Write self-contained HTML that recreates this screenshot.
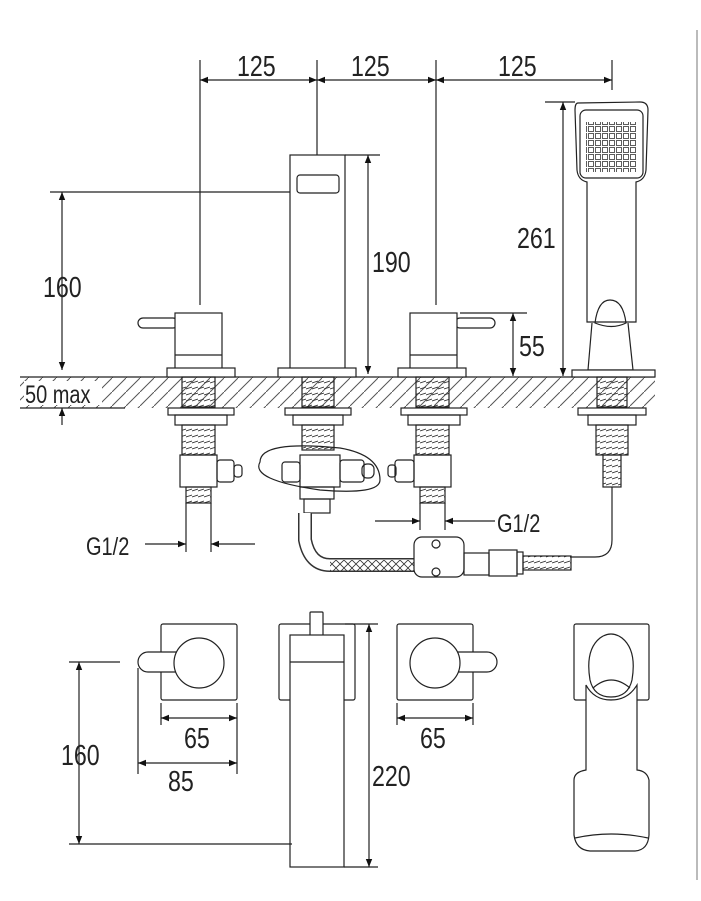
<!DOCTYPE html>
<html><head><meta charset="utf-8"><style>
html,body{margin:0;padding:0;background:#fff;}
svg{display:block}
text{font-family:"Liberation Sans",sans-serif;font-size:29px;fill:#222;}
</style></head><body>
<svg width="701" height="901" viewBox="0 0 701 901" xmlns="http://www.w3.org/2000/svg">
<defs>
<marker id="a" viewBox="0 0 10 10" refX="10" refY="5" markerWidth="12" markerHeight="8" orient="auto-start-reverse" markerUnits="userSpaceOnUse"><path d="M0,1 L10,5 L0,9z" fill="#111"/></marker>
<pattern id="h" width="14" height="14" patternUnits="userSpaceOnUse"><path d="M0,14 L14,0" stroke="#555" stroke-width="1"/></pattern>
<pattern id="g" width="7" height="7" patternUnits="userSpaceOnUse"><rect x="0.5" y="0.5" width="5" height="5" fill="none" stroke="#333" stroke-width="0.8"/></pattern>
<pattern id="x" width="8" height="8" patternUnits="userSpaceOnUse"><path d="M0,0 L8,8 M8,0 L0,8" stroke="#333" stroke-width="0.8"/></pattern>
<pattern id="t" width="6" height="6" patternUnits="userSpaceOnUse"><path d="M0,5 L6,3" stroke="#333" stroke-width="0.9"/></pattern>
</defs>
<g fill="none" stroke="#222" stroke-width="1.2">
<line x1="697" y1="30" x2="697" y2="880" stroke="#bbb" stroke-width="2"/>
<!-- top dims -->
<line x1="200" y1="60" x2="200" y2="305"/><line x1="317" y1="60" x2="317" y2="155"/><line x1="436" y1="60" x2="436" y2="305"/><line x1="612" y1="60" x2="612" y2="90"/>
<line x1="200" y1="80" x2="317" y2="80" marker-start="url(#a)" marker-end="url(#a)"/>
<line x1="317" y1="80" x2="436" y2="80" marker-start="url(#a)" marker-end="url(#a)"/>
<line x1="436" y1="80" x2="612" y2="80" marker-start="url(#a)" marker-end="url(#a)"/>
<!-- deck -->
<rect x="20" y="377" width="635" height="31" fill="url(#h)" stroke="none"/>
<rect x="24" y="381" width="78" height="24" fill="#fff" stroke="none"/>
<line x1="20" y1="377" x2="655" y2="377"/>
<line x1="20" y1="408" x2="125" y2="408"/>
<!-- 160 left top -->
<line x1="50" y1="192" x2="295" y2="192"/>
<line x1="62" y1="192" x2="62" y2="370" marker-start="url(#a)" marker-end="url(#a)"/>
<line x1="62" y1="425" x2="62" y2="408" marker-end="url(#a)"/>
<!-- spout -->
<rect x="290" y="155" width="55" height="215" fill="#fff"/>
<rect x="297" y="175" width="42" height="18" rx="3"/>
<line x1="345" y1="155" x2="380" y2="155"/>
<line x1="368" y1="155" x2="368" y2="374" marker-start="url(#a)" marker-end="url(#a)"/>
<rect x="278" y="368" width="78" height="9" fill="#fff"/>
<!-- left handle -->
<rect x="138" y="318" width="40" height="10" rx="5" fill="#fff"/>
<rect x="175" y="313" width="47" height="57" fill="#fff"/><line x1="175" y1="355" x2="222" y2="355"/>
<rect x="167" y="368" width="68" height="9" fill="#fff"/>
<!-- right handle -->
<rect x="455" y="318" width="40" height="10" rx="5" fill="#fff"/>
<rect x="410" y="313" width="47" height="57" fill="#fff"/><line x1="410" y1="355" x2="457" y2="355"/>
<rect x="398" y="368" width="68" height="9" fill="#fff"/>
<!-- 55 -->
<line x1="460" y1="313" x2="527" y2="313"/>
<line x1="513" y1="313" x2="513" y2="376" marker-start="url(#a)" marker-end="url(#a)"/>
<!-- handshower -->
<path d="M578,103 Q575,103 575,110 L577,170 Q578,180 587,182 L587,322 L636,322 L636,182 Q645,180 646,170 L648,110 Q648,102 640,102 Z" fill="#fff"/>
<rect x="580" y="110" width="63" height="68" rx="6"/>
<rect x="586" y="122" width="50" height="50" fill="url(#g)" stroke="none"/>
<path d="M595,323 Q598,300 610,300 Q623,300 626,323 Q612,330 595,323Z"/>
<path d="M592,323 L588,370 L633,370 L628,323"/>
<rect x="572" y="370" width="83" height="7" fill="#fff"/>
<line x1="545" y1="102" x2="575" y2="102"/>
<line x1="563" y1="102" x2="563" y2="376" marker-start="url(#a)" marker-end="url(#a)"/>
<!-- below-deck stems -->
<rect x="182" y="377" width="33" height="30" fill="url(#t)"/>
<rect x="168" y="408" width="66" height="7"/><rect x="175" y="415" width="52" height="10"/>
<rect x="182" y="425" width="33" height="30" fill="url(#t)"/>
<rect x="180" y="455" width="37" height="32"/><rect x="186" y="487" width="25" height="16" fill="url(#t)"/>
<rect x="217" y="460" width="17" height="22" rx="3"/><rect x="234" y="465" width="8" height="12" rx="3"/>
<rect x="302" y="377" width="32" height="30" fill="url(#t)"/>
<rect x="285" y="408" width="66" height="7"/><rect x="293" y="415" width="50" height="10"/>
<rect x="302" y="425" width="32" height="25" fill="url(#t)"/>
<rect x="300" y="455" width="40" height="32"/><rect x="282" y="462" width="18" height="20" rx="3"/><rect x="340" y="460" width="24" height="22" rx="3"/><rect x="362" y="464" width="12" height="14" rx="5"/>
<rect x="300" y="487" width="34" height="12"/><rect x="304" y="499" width="26" height="14"/>
<path d="M260,462 Q260,440 340,448 Q380,455 380,480 Q380,495 320,490 Q250,480 260,462Z"/>
<rect x="416" y="377" width="33" height="30" fill="url(#t)"/>
<rect x="401" y="408" width="66" height="7"/><rect x="408" y="415" width="52" height="10"/>
<rect x="416" y="425" width="33" height="30" fill="url(#t)"/>
<rect x="414" y="455" width="37" height="32"/><rect x="420" y="487" width="25" height="16" fill="url(#t)"/>
<rect x="395" y="460" width="19" height="22" rx="3"/><rect x="388" y="465" width="8" height="12" rx="3"/>
<rect x="597" y="377" width="30" height="30" fill="url(#t)"/>
<rect x="578" y="408" width="68" height="7"/><rect x="588" y="415" width="48" height="10"/>
<rect x="596" y="425" width="32" height="30" fill="url(#t)"/>
<rect x="603" y="455" width="18" height="32" fill="url(#t)"/>
<path d="M612,487 L612,540 Q612,557 595,557 L570,557"/>
<!-- hose -->
<path d="M305,513 L305,540 Q310,565 330,565 L420,565" stroke-width="14" stroke="#333"/>
<path d="M305,513 L305,540 Q310,565 330,565 L420,565" stroke-width="11" stroke="#fff"/>
<rect x="330" y="560" width="90" height="11" fill="url(#x)" stroke="none"/>
<rect x="414" y="537" width="50" height="40" rx="8" fill="#fff"/>
<circle cx="436" cy="544" r="4"/><circle cx="436" cy="572" r="4"/>
<rect x="464" y="553" width="25" height="22"/><rect x="489" y="550" width="28" height="26"/>
<rect x="517" y="552" width="6" height="22"/><rect x="523" y="556" width="48" height="14" fill="url(#t)"/>
<!-- G1/2 -->
<line x1="186" y1="503" x2="186" y2="552"/><line x1="211" y1="503" x2="211" y2="552"/>
<line x1="145" y1="544" x2="186" y2="544" marker-end="url(#a)"/><line x1="255" y1="544" x2="211" y2="544" marker-end="url(#a)"/>
<line x1="420" y1="503" x2="420" y2="530"/><line x1="445" y1="503" x2="445" y2="530"/>
<line x1="375" y1="521" x2="420" y2="521" marker-end="url(#a)"/><line x1="495" y1="521" x2="445" y2="521" marker-end="url(#a)"/>
<!-- bottom plan -->
<rect x="161" y="624" width="76" height="76" rx="2"/>
<rect x="138" y="652" width="52" height="20" rx="10" fill="#fff"/>
<circle cx="199" cy="663" r="25" fill="#fff"/>
<rect x="397" y="624" width="76" height="76" rx="2"/>
<rect x="445" y="652" width="52" height="20" rx="10" fill="#fff"/>
<circle cx="435" cy="663" r="25" fill="#fff"/>
<rect x="279" y="624" width="76" height="76" rx="2"/>
<rect x="310" y="612" width="13" height="24" rx="1" fill="#fff"/>
<rect x="290" y="635" width="54" height="232" fill="#fff"/><line x1="290" y1="662" x2="344" y2="662"/>
<line x1="345" y1="624" x2="378" y2="624"/><line x1="344" y1="867" x2="378" y2="867"/>
<line x1="369" y1="624" x2="369" y2="867" marker-start="url(#a)" marker-end="url(#a)"/>
<line x1="69" y1="662" x2="120" y2="662"/>
<line x1="69" y1="844" x2="292" y2="844"/>
<line x1="79" y1="662" x2="79" y2="844" marker-start="url(#a)" marker-end="url(#a)"/>
<line x1="161" y1="703" x2="161" y2="725"/><line x1="237" y1="703" x2="237" y2="774"/><line x1="138" y1="668" x2="138" y2="774"/>
<line x1="161" y1="718" x2="237" y2="718" marker-start="url(#a)" marker-end="url(#a)"/>
<line x1="138" y1="763" x2="237" y2="763" marker-start="url(#a)" marker-end="url(#a)"/>
<line x1="397" y1="703" x2="397" y2="725"/><line x1="473" y1="703" x2="473" y2="725"/>
<line x1="397" y1="718" x2="473" y2="718" marker-start="url(#a)" marker-end="url(#a)"/>
<rect x="574" y="624" width="75" height="76" rx="2"/>
<path d="M590,680 Q585,650 600,638 Q611,630 622,638 Q637,650 632,680 Q628,697 611,697 Q594,697 590,680Z" fill="#fff"/>
<path d="M586,685 L586,770 Q574,772 574,780 L574,835 Q576,850 590,851 L635,851 Q648,850 649,835 L649,780 Q647,771 637,770 L637,685 Q628,700 611,700 Q594,700 586,685Z" fill="#fff"/>
<path d="M593,688 Q611,672 630,688"/>
<path d="M575,838 Q611,830 648,838"/>
</g>
<g>
<text x="237" y="76" transform="translate(237 0) scale(0.8 1) translate(-237 0)">125</text>
<text x="351" y="76" transform="translate(351 0) scale(0.8 1) translate(-351 0)">125</text>
<text x="498" y="76" transform="translate(498 0) scale(0.8 1) translate(-498 0)">125</text>
<text x="372" y="272" transform="translate(372 0) scale(0.8 1) translate(-372 0)">190</text>
<text x="43" y="297" transform="translate(43 0) scale(0.8 1) translate(-43 0)">160</text>
<text x="517" y="248" transform="translate(517 0) scale(0.8 1) translate(-517 0)">261</text>
<text x="519" y="356" transform="translate(519 0) scale(0.8 1) translate(-519 0)">55</text>
<text x="25" y="403" style="font-size:25px" transform="translate(25 0) scale(0.8 1) translate(-25 0)">50 max</text>
<text x="86" y="555" style="font-size:25px" transform="translate(86 0) scale(0.8 1) translate(-86 0)">G1/2</text>
<text x="497" y="532" style="font-size:25px" transform="translate(497 0) scale(0.8 1) translate(-497 0)">G1/2</text>
<text x="184" y="748" transform="translate(184 0) scale(0.8 1) translate(-184 0)">65</text>
<text x="420" y="748" transform="translate(420 0) scale(0.8 1) translate(-420 0)">65</text>
<text x="168" y="791" transform="translate(168 0) scale(0.8 1) translate(-168 0)">85</text>
<text x="61" y="765" transform="translate(61 0) scale(0.8 1) translate(-61 0)">160</text>
<text x="372" y="786" transform="translate(372 0) scale(0.8 1) translate(-372 0)">220</text>
</g>
</svg>
</body></html>
